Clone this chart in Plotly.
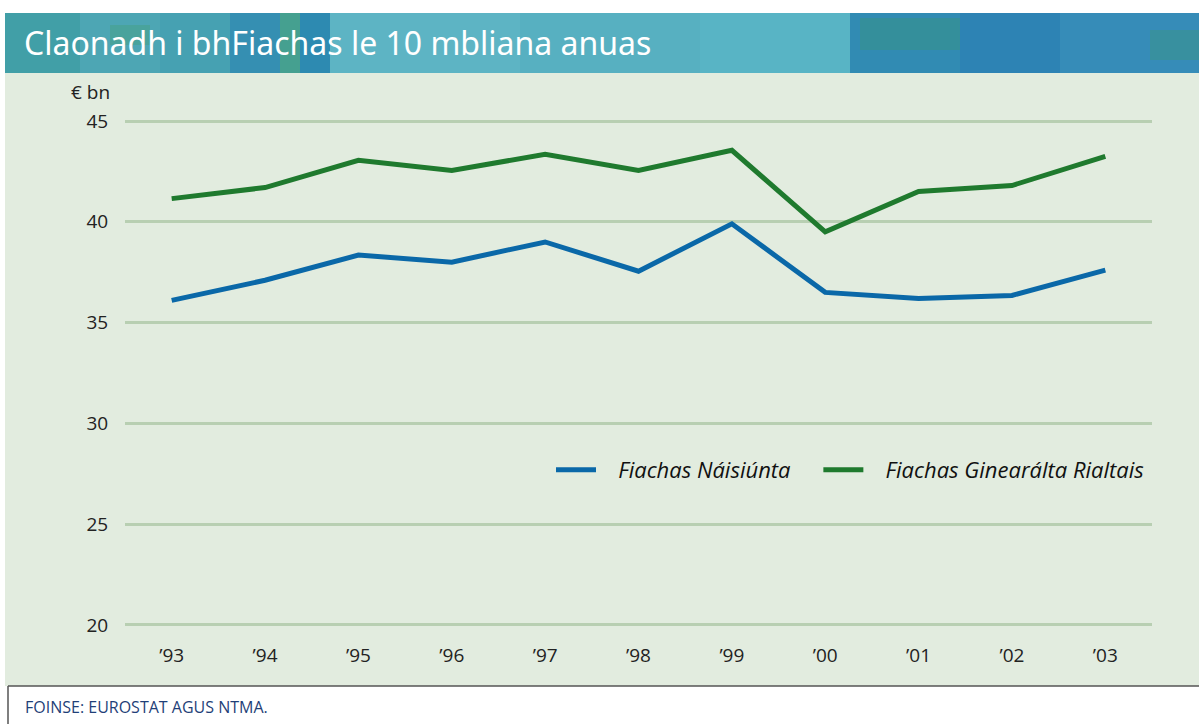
import plotly.graph_objects as go

years = ["’93", "’94", "’95", "’96", "’97", "’98", "’99", "’00", "’01", "’02", "’03"]
naisiunta = [36.1, 37.1, 38.35, 38.0, 39.0, 37.55, 39.9, 36.5, 36.2, 36.35, 37.6]
rialtais = [41.15, 41.7, 43.05, 42.55, 43.35, 42.55, 43.55, 39.5, 41.5, 41.8, 43.25]
y_ticks = [20, 25, 30, 35, 40, 45]
series_names = ["Fiachas Náisiúnta", "Fiachas Ginearálta Rialtais"]

W, H = 1199, 724
L, R, T, B = 125, 1152, 119, 627

def px(x):
    return (x - L) / (R - L)

def py(y):
    return (B - y) / (B - T)

FONT = "Open Sans, Lato, Noto Sans, sans-serif"
PAD = "\u00a0\u00a0\u00a0"
TRAIL = "\u00a0" * 4

fig = go.Figure()
xs = list(range(len(years)))
fig.add_trace(go.Scatter(x=xs, y=naisiunta, mode="lines", name=PAD + series_names[0] + TRAIL,
                         line=dict(color="#0a68a8", width=5)))
fig.add_trace(go.Scatter(x=xs, y=rialtais, mode="lines", name=PAD + series_names[1],
                         line=dict(color="#1f7a2e", width=5)))

shapes = []
shapes.append(dict(type="rect", xref="paper", yref="paper", x0=px(5), x1=px(1199), y0=py(686), y1=py(73),
                   fillcolor="#e2ecdf", line=dict(width=0), layer="below"))
shapes.append(dict(type="rect", xref="paper", yref="paper", x0=px(5), x1=px(1199), y0=py(73), y1=py(13),
                   fillcolor="#4aa6b6", line=dict(width=0), layer="below"))
header_bits = [
    (5, 80, "#3f9ea4", 0.8), (80, 160, "#4ea7b3", 0.7), (160, 230, "#449fb0", 0.7),
    (230, 280, "#2f8ab2", 0.8), (280, 300, "#3f9a6a", 0.5), (300, 330, "#2683b0", 0.8),
    (330, 520, "#62b8c8", 0.8), (520, 700, "#5ab3c4", 0.8), (700, 850, "#5ab6c8", 0.85),
    (850, 960, "#2f88b2", 0.9), (960, 1060, "#2a80b4", 0.9), (1060, 1199, "#3489b8", 0.9),
]
for x0, x1, c, o in header_bits:
    shapes.append(dict(type="rect", xref="paper", yref="paper", x0=px(x0), x1=px(x1), y0=py(73), y1=py(13),
                       fillcolor=c, opacity=o, line=dict(width=0), layer="below"))
for x0, x1, y0, y1 in [(860, 960, 18, 50), (1150, 1199, 30, 60), (110, 150, 25, 45)]:
    shapes.append(dict(type="rect", xref="paper", yref="paper", x0=px(x0), x1=px(x1), y0=py(y1), y1=py(y0),
                       fillcolor="#3f9a52", opacity=0.25, line=dict(width=0), layer="below"))
shapes.append(dict(type="line", xref="paper", yref="paper", x0=px(8), x1=px(1199), y0=py(686), y1=py(686),
                   line=dict(color="#555555", width=1.5)))
shapes.append(dict(type="line", xref="paper", yref="paper", x0=px(8), x1=px(8), y0=py(686), y1=py(724),
                   line=dict(color="#555555", width=1.5)))

annotations = [
    dict(text="Claonadh i bhFiachas le 10 mbliana anuas", xref="paper", yref="paper",
         x=px(22), y=py(42), xanchor="left", yanchor="middle", showarrow=False,
         font=dict(family="Noto Sans, sans-serif", size=32, color="white")),
    dict(text="€ bn", xref="paper", yref="paper", x=px(112), y=py(92), xanchor="right", yanchor="middle",
         showarrow=False, font=dict(family=FONT, size=19, color="#222222")),
    dict(text="FOINSE: EUROSTAT AGUS NTMA.", xref="paper", yref="paper", x=px(23), y=py(707),
         xanchor="left", yanchor="middle", showarrow=False,
         font=dict(family=FONT, size=16, color="#1f3f78")),
]

fig.update_layout(
    width=W, height=H, autosize=False,
    margin=dict(l=L, r=W - R, t=T, b=H - B),
    paper_bgcolor="white", plot_bgcolor="rgba(0,0,0,0)",
    shapes=shapes, annotations=annotations,
    showlegend=True,
    legend=dict(orientation="h", x=px(551), xanchor="left", y=py(470), yanchor="middle",
                bgcolor="rgba(0,0,0,0)", font=dict(family=FONT, size=22, color="#111111", style="italic"),
                itemwidth=40, tracegroupgap=0),
    xaxis=dict(range=[-0.5, 10.5], tickmode="array", tickvals=xs, ticktext=years, showgrid=False,
               zeroline=False, showline=False, ticks="outside", ticklen=11, tickcolor="rgba(0,0,0,0)",
               tickfont=dict(family=FONT, size=19, color="#222222"), fixedrange=True),
    yaxis=dict(range=[19.9, 45.1], tickmode="array", tickvals=y_ticks, showgrid=True, gridcolor="#b8cfb2",
               gridwidth=3, zeroline=False, showline=False, ticks="outside", ticklen=12,
               tickcolor="rgba(0,0,0,0)", tickfont=dict(family=FONT, size=19, color="#222222"),
               fixedrange=True),
)

fig.write_html("out.html", config={"responsive": False, "displayModeBar": False},
               post_script="document.body.style.margin='0';document.body.style.overflow='hidden';")
